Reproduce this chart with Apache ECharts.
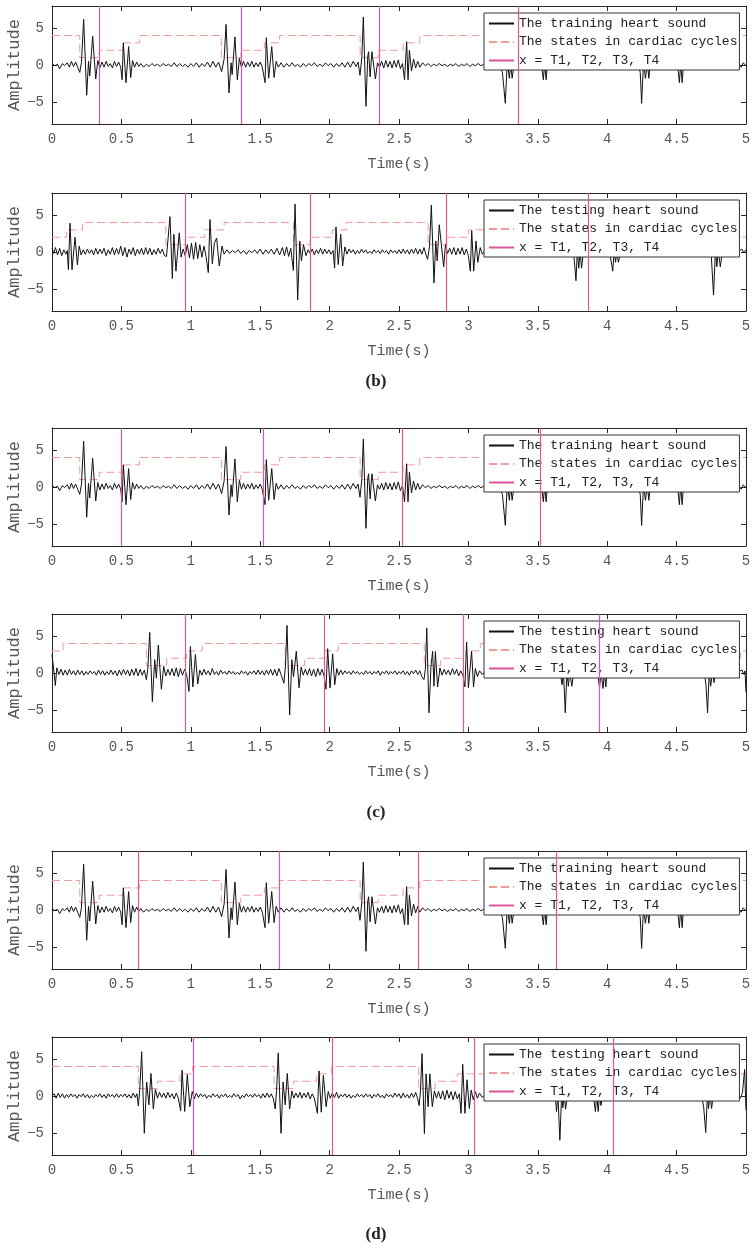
<!DOCTYPE html>
<html>
<head>
<meta charset="utf-8">
<script src="https://cdn.jsdelivr.net/npm/echarts@6/dist/echarts.min.js"></script>
</head>
<body style="margin:0;background:#fff">
<div id="main" style="width:752px;height:1244px;"></div>
<script>
// training heart sound (same recording in the three upper panels) [t, amplitude]
var trainSound = [
  [0,0.2],[0.02,-0.1],[0.04,0.1],[0.055,-0.5],[0.075,0.2],[0.09,-0.1],[0.11,0.3],[0.125,-0.3],[0.14,0.5],[0.155,-0.2],[0.17,0.4],[0.185,-0.3],
  [0.2,-1.0],[0.212,0.3],[0.228,6.2],[0.25,-4.1],[0.263,0.5],[0.272,-1.5],[0.293,3.9],[0.315,-1.9],[0.33,0.6],[0.345,-0.4],
  [0.36,0.4],[0.375,-0.3],[0.39,0.5],[0.405,-0.2],[0.42,0.2],[0.435,-0.4],[0.45,0.5],[0.465,-0.2],[0.48,0.4],[0.495,-0.3],
  [0.505,-2.0],[0.514,3.0],[0.533,-2.4],[0.552,2.5],[0.567,-1.7],[0.58,0.6],[0.595,-0.3],
  [0.61,0.4],[0.625,-0.2],[0.64,0.2],[0.66,-0.3],[0.68,0.1],[0.70,-0.2],[0.72,0.2],[0.74,-0.1],[0.76,0.1],[0.78,-0.2],[0.80,0.2],[0.82,-0.1],[0.84,0.1],[0.86,-0.2],[0.88,0.3],[0.90,-0.2],[0.92,0.2],[0.94,-0.2],[0.96,0.1],[0.98,-0.3],[1.0,0.2],[1.02,-0.2],[1.04,0.3],[1.06,-0.3],[1.08,0.2],[1.10,-0.2],[1.12,0.4],[1.14,-0.3],[1.16,0.5],[1.18,-0.3],[1.20,0.4],
  [1.222,-0.9],[1.24,0.8],[1.254,5.5],[1.275,-3.8],[1.29,0.3],[1.298,-1.3],[1.318,3.8],[1.335,-2.0],[1.35,0.9],[1.365,-0.3],
  [1.38,0.5],[1.395,-0.3],[1.41,0.4],[1.425,-0.2],[1.44,0.5],[1.455,-0.3],[1.47,0.3],[1.485,-0.2],[1.50,0.4],[1.515,-0.3],
  [1.535,-2.4],[1.544,3.7],[1.561,-1.8],[1.583,2.5],[1.60,-1.7],[1.615,0.5],[1.63,-0.3],
  [1.65,0.3],[1.67,-0.3],[1.69,0.2],[1.71,-0.2],[1.73,0.3],[1.75,-0.2],[1.77,0.1],[1.79,-0.3],[1.81,0.2],[1.83,-0.2],[1.85,0.2],[1.87,-0.1],[1.89,0.3],[1.91,-0.2],[1.93,0.1],[1.95,-0.2],[1.97,0.3],[1.99,-0.1],[2.01,0.2],[2.03,-0.3],[2.05,0.2],[2.07,-0.2],[2.09,0.3],[2.11,-0.3],[2.13,0.4],[2.15,-0.3],[2.17,0.5],[2.19,-0.2],[2.205,0.4],
  [2.219,-1.4],[2.232,1.0],[2.243,6.5],[2.262,-5.6],[2.275,1.2],[2.281,1.8],[2.292,-1.6],[2.305,1.8],[2.33,-1.9],[2.345,0.3],
  [2.36,-0.3],[2.375,0.5],[2.39,-0.4],[2.405,0.6],[2.42,-0.3],[2.435,0.5],[2.45,-0.4],[2.465,0.6],[2.48,-0.3],[2.495,0.7],[2.51,-0.5],
  [2.525,0.2],[2.54,-2.0],[2.555,3.15],[2.565,-2.0],[2.575,2.0],[2.59,-0.8],[2.605,0.8],[2.62,-0.4],[2.635,0.5],[2.65,-0.3],
  [2.67,0.3],[2.69,-0.1],[2.71,0.2],[2.73,-0.2],[2.75,0.1],[2.77,-0.1],[2.79,0.2],[2.81,-0.1],[2.83,0.1],[2.85,-0.2],[2.87,0.1],[2.89,-0.1],[2.91,0.2],[2.93,-0.2],[2.95,0.1],[2.97,-0.1],[2.99,0.2],[3.01,-0.2],[3.03,0.1],[3.05,-0.1],[3.07,0.2],[3.09,-0.1],[3.11,0.1],[3.13,-0.2],
  [3.22,0.2],[3.245,-1.0],[3.266,-5.2],[3.28,0.5],[3.295,-1.8],[3.305,0.2],[3.315,-1.8],[3.33,0.2],[3.45,0.1],[3.53,-0.5],[3.54,-2.0],[3.55,0.3],[3.56,-2.0],[3.57,0.2],[3.65,0.1],
  [4.22,0.2],[4.238,-1.0],[4.248,-5.2],[4.262,0.5],[4.275,-1.8],[4.29,0.2],[4.3,-1.8],[4.31,0.2],[4.45,0.1],[4.51,-0.5],[4.52,-2.4],[4.53,0.3],[4.54,-2.4],[4.55,0.2],[4.7,0.1],[4.9,-0.1],
  [4.95,0.2],[4.965,-0.3],[4.98,0.3],[5.0,-0.1]
];

// testing heart sound, panel (b)
var testSoundB = [
  [0,0.5],[0.012,-0.2],[0.025,0.6],[0.04,-0.4],[0.055,0.5],[0.07,-0.5],[0.085,0.3],[0.1,-0.3],[0.11,0.2],
  [0.118,-2.4],[0.13,3.9],[0.144,-2.4],[0.166,2.0],[0.183,-1.75],[0.196,0.8],[0.21,-0.4],
  [0.225,0.3],[0.24,-0.3],[0.255,0.4],[0.27,-0.2],[0.285,0.3],[0.30,-0.4],[0.315,0.5],[0.33,-0.3],[0.345,0.4],[0.36,-0.2],[0.375,0.5],[0.39,-0.5],[0.405,0.3],[0.42,-0.3],[0.435,0.6],[0.45,-0.4],[0.465,0.5],[0.48,-0.3],[0.495,0.8],[0.51,-0.5],[0.525,0.6],[0.54,-0.7],[0.555,0.4],[0.57,-0.3],[0.585,0.6],[0.60,-0.5],[0.615,0.4],[0.63,-0.3],[0.645,0.5],[0.66,-0.4],[0.675,0.6],[0.69,-0.3],[0.705,0.5],[0.72,-0.4],[0.735,0.3],[0.75,-0.3],[0.765,0.5],[0.78,-0.2],[0.795,0.4],[0.81,-0.5],
  [0.825,-0.6],[0.85,4.8],[0.867,-3.6],[0.878,2.4],[0.893,-2.6],[0.917,2.6],[0.93,-0.7],[0.945,0.4],[0.96,-0.5],
  [0.975,1.0],[0.99,-0.8],[1.005,1.2],[1.02,-1.0],[1.035,1.3],[1.05,-0.9],[1.065,1.0],[1.08,-0.7],[1.095,0.8],[1.11,-0.6],
  [1.126,-2.8],[1.138,4.4],[1.155,-1.6],[1.17,1.2],[1.186,1.9],[1.205,-1.9],[1.225,0.8],[1.24,-0.3],
  [1.26,0.3],[1.28,-0.2],[1.30,0.2],[1.32,-0.1],[1.34,0.3],[1.36,-0.2],[1.38,0.2],[1.40,-0.3],[1.42,0.2],[1.44,-0.1],[1.46,0.3],[1.48,-0.2],[1.50,0.4],[1.52,-0.3],[1.54,0.3],[1.56,-0.2],[1.58,0.4],[1.60,-0.3],[1.62,0.5],[1.64,-0.4],[1.66,0.6],[1.675,-0.5],[1.69,0.7],[1.705,-0.6],[1.72,0.5],
  [1.739,-2.5],[1.751,6.5],[1.77,-6.5],[1.785,1.5],[1.797,-1.2],[1.812,1.0],[1.83,-0.5],[1.845,0.3],
  [1.86,-0.2],[1.875,0.4],[1.89,-0.4],[1.905,0.3],[1.92,-0.2],[1.935,0.5],[1.95,-0.3],[1.965,0.4],[1.98,-0.2],[1.995,0.3],[2.01,-0.3],[2.025,0.2],
  [2.036,-2.2],[2.046,3.4],[2.062,-1.7],[2.08,2.4],[2.094,-1.9],[2.11,0.7],[2.125,-0.3],
  [2.14,0.4],[2.155,-0.1],[2.17,0.3],[2.185,-0.3],[2.20,0.2],[2.215,-0.2],[2.23,0.4],[2.245,-0.1],[2.26,0.3],[2.275,-0.2],[2.29,0.1],[2.305,-0.2],[2.32,0.3],[2.335,-0.1],[2.35,0.2],[2.365,-0.2],[2.38,0.3],[2.395,-0.1],[2.41,0.2],[2.425,-0.3],[2.44,0.3],[2.455,-0.1],[2.47,0.2],[2.485,-0.2],[2.50,0.3],[2.515,-0.2],[2.53,0.4],[2.545,-0.2],[2.56,0.3],[2.575,-0.3],[2.59,0.4],[2.605,-0.2],[2.62,0.5],[2.635,-0.3],[2.65,0.4],[2.665,-0.3],[2.68,0.6],[2.695,-0.4],
  [2.706,-1.0],[2.72,0.8],[2.733,6.35],[2.752,-4.2],[2.765,1.5],[2.775,-1.2],[2.79,3.7],[2.822,-2.0],[2.835,1.0],[2.85,-0.2],
  [2.865,0.5],[2.88,-0.3],[2.895,0.6],[2.91,-0.4],[2.925,0.5],[2.94,-0.3],[2.955,0.6],[2.97,-0.4],[2.985,0.4],[3.0,-0.5],
  [3.014,-2.6],[3.024,2.9],[3.038,-2.6],[3.055,1.5],[3.068,-1.4],[3.085,0.6],[3.1,-0.3],[3.12,0.2],
  [3.2,0.1],[3.76,-0.5],[3.775,-3.9],[3.785,0.3],[3.795,-2.2],[3.805,0.2],[3.815,-2.2],[3.83,0.2],[4.02,-0.3],[4.04,-2.6],[4.05,0.2],[4.06,-1.4],[4.07,0.2],[4.08,-1.4],[4.1,0.2],
  [4.75,-0.5],[4.766,-5.85],[4.78,0.3],[4.79,-2.0],[4.80,0.2],[4.815,-2.0],[4.83,0.2],[4.93,0.1],
  [4.955,0.2],[4.97,0.4],[4.985,-0.1],[5.0,0.3]
];

// testing heart sound, panel (c)
var testSoundC = [
  [0,2.5],[0.012,0.5],[0.024,-1.7],[0.035,0.7],[0.05,-0.2],[0.065,0.5],[0.08,-0.3],[0.095,0.4],[0.11,-0.3],[0.125,0.5],[0.14,-0.2],[0.155,0.3],[0.17,-0.3],[0.185,0.4],[0.20,-0.2],[0.215,0.3],[0.23,-0.3],[0.245,0.2],[0.26,-0.2],[0.275,0.3],[0.29,-0.1],[0.305,0.2],[0.32,-0.3],[0.335,0.4],[0.35,-0.2],[0.365,0.3],[0.38,-0.3],[0.395,0.2],[0.41,-0.2],[0.425,0.4],[0.44,-0.2],[0.455,0.3],[0.47,-0.4],[0.485,0.4],[0.50,-0.3],[0.515,0.5],[0.53,-0.2],[0.545,0.4],[0.56,-0.4],[0.575,0.5],[0.59,-0.3],[0.605,0.6],[0.62,-0.4],[0.635,0.5],[0.65,-0.3],[0.665,0.4],
  [0.68,-0.9],[0.69,0.5],[0.704,5.5],[0.723,-3.9],[0.74,1.8],[0.752,-0.7],[0.766,3.8],[0.788,-2.2],[0.805,0.9],[0.82,-0.4],
  [0.835,0.5],[0.85,-0.3],[0.865,0.6],[0.88,-0.4],[0.895,0.7],[0.91,-0.5],[0.925,0.6],[0.94,-0.3],[0.955,0.5],[0.97,-0.2],
  [0.987,-2.5],[0.997,3.6],[1.015,-1.9],[1.033,2.5],[1.05,-1.5],[1.065,0.4],[1.08,-0.3],
  [1.095,0.5],[1.11,-0.2],[1.125,0.3],[1.14,-0.3],[1.155,0.6],[1.17,-0.2],[1.185,0.2],[1.20,-0.3],[1.215,0.4],[1.23,-0.1],[1.245,0.2],[1.26,-0.2],[1.275,0.3],[1.29,-0.1],[1.305,0.2],[1.32,-0.2],[1.335,0.1],[1.35,-0.2],[1.365,0.3],[1.38,-0.1],[1.395,0.2],[1.41,-0.3],[1.425,0.2],[1.44,-0.1],[1.455,0.3],[1.47,-0.2],[1.485,0.4],[1.50,-0.2],[1.515,0.3],[1.53,-0.3],[1.545,0.4],[1.56,-0.2],[1.575,0.5],[1.59,-0.3],[1.605,0.5],[1.62,-0.4],[1.635,0.6],[1.65,-0.2],
  [1.671,-1.4],[1.682,1.0],[1.693,6.45],[1.712,-5.7],[1.728,1.8],[1.74,-0.5],[1.76,2.95],[1.78,-2.0],[1.795,0.8],[1.81,-0.3],
  [1.825,0.5],[1.84,-0.3],[1.855,0.6],[1.87,-0.4],[1.885,0.5],[1.90,-0.5],[1.915,0.6],[1.93,-0.3],[1.945,0.5],[1.96,-0.4],
  [1.974,-2.2],[1.986,3.3],[2.003,-2.05],[2.022,2.6],[2.037,-1.6],[2.052,0.6],[2.065,-0.3],
  [2.08,0.4],[2.095,-0.2],[2.11,0.3],[2.125,-0.1],[2.14,0.2],[2.155,-0.2],[2.17,0.3],[2.185,-0.1],[2.20,0.2],[2.215,-0.2],[2.23,0.1],[2.245,-0.2],[2.26,0.3],[2.275,-0.1],[2.29,0.2],[2.305,-0.2],[2.32,0.2],[2.335,-0.1],[2.35,0.3],[2.365,-0.3],[2.38,0.2],[2.395,-0.1],[2.41,0.3],[2.425,-0.2],[2.44,0.2],[2.455,-0.1],[2.47,0.3],[2.485,-0.2],[2.50,0.2],[2.515,-0.1],[2.53,0.3],[2.545,-0.2],[2.56,0.2],[2.575,-0.3],[2.59,0.3],[2.605,-0.1],[2.62,0.4],[2.635,-0.2],[2.65,0.3],[2.665,-0.5],
  [2.68,-0.9],[2.69,0.5],[2.7,6.1],[2.716,-5.4],[2.73,0.8],[2.742,2.95],[2.752,-1.8],[2.762,2.9],[2.778,-1.9],[2.795,0.7],[2.81,-0.3],
  [2.825,0.5],[2.84,-0.2],[2.855,0.4],[2.87,-0.3],[2.885,0.6],[2.90,-0.2],[2.915,0.5],[2.93,-0.4],[2.945,0.3],[2.96,-0.3],
  [2.975,-1.9],[2.987,4.2],[3.0,-2.0],[3.023,2.95],[3.037,-1.9],[3.05,0.6],[3.065,-0.5],[3.08,0.3],[3.1,-0.2],[3.12,0.2],
  [3.2,0.1],[3.66,0.1],[3.675,-1.6],[3.685,0.2],[3.698,-5.4],[3.71,0.3],[3.72,-1.8],[3.73,0.2],[3.745,-1.8],[3.76,0.2],
  [3.93,0.1],[3.945,-2.0],[3.955,0.2],[3.97,-2.1],[3.98,0.2],[3.99,-1.9],[4.0,0.2],
  [4.7,0.1],[4.712,-1.7],[4.723,-5.4],[4.735,0.3],[4.745,-1.8],[4.76,0.2],[4.77,-1.3],[4.78,0.2],[4.93,0.1],
  [4.97,0.4],[4.985,-0.2],[4.993,0.3],[5.0,-2.6]
];

// testing heart sound, panel (d)
var testSoundD = [
  [0,0.0],[0.015,0.3],[0.03,-0.3],[0.045,0.4],[0.06,-0.2],[0.075,0.3],[0.09,-0.3],[0.105,0.2],[0.12,-0.2],[0.135,0.3],[0.15,-0.1],[0.165,0.2],[0.18,-0.3],[0.195,0.2],[0.21,-0.1],[0.225,0.3],[0.24,-0.2],[0.255,0.2],[0.27,-0.3],[0.285,0.1],[0.30,-0.2],[0.315,0.2],[0.33,-0.1],[0.345,0.3],[0.36,-0.2],[0.375,0.2],[0.39,-0.3],[0.405,0.3],[0.42,-0.1],[0.435,0.2],[0.45,-0.2],[0.465,0.3],[0.48,-0.2],[0.495,0.2],[0.51,-0.1],[0.525,0.3],[0.54,-0.2],[0.555,0.2],[0.57,-0.3],[0.585,0.4],[0.60,-0.2],[0.612,0.3],
  [0.622,-1.35],[0.632,0.8],[0.646,6.0],[0.665,-5.05],[0.682,1.9],[0.698,-1.2],[0.713,3.06],[0.73,-1.75],[0.745,0.9],[0.76,-0.3],
  [0.775,0.5],[0.79,-0.2],[0.805,0.4],[0.82,-0.3],[0.835,0.5],[0.85,-0.2],[0.865,0.3],[0.88,-0.4],[0.895,0.4],[0.91,-0.3],
  [0.927,-2.0],[0.937,3.5],[0.956,-2.1],[0.975,2.9],[0.993,-1.45],[1.01,0.6],[1.025,-0.4],
  [1.04,0.4],[1.055,-0.2],[1.07,0.3],[1.085,-0.1],[1.10,0.2],[1.115,-0.3],[1.13,0.1],[1.145,-0.2],[1.16,0.3],[1.175,-0.1],[1.19,0.2],[1.205,-0.3],[1.22,0.2],[1.235,-0.1],[1.25,0.3],[1.265,-0.2],[1.28,0.1],[1.295,-0.2],[1.31,0.3],[1.325,-0.1],[1.34,0.2],[1.355,-0.4],[1.37,0.1],[1.385,-0.2],[1.40,0.3],[1.415,-0.1],[1.43,0.2],[1.445,-0.2],[1.46,0.3],[1.475,-0.1],[1.49,0.2],[1.505,-0.3],[1.52,0.3],[1.535,-0.2],[1.55,0.4],[1.565,-0.2],[1.58,0.3],[1.595,-0.4],
  [1.608,-1.75],[1.618,0.8],[1.63,5.85],[1.65,-5.05],[1.665,1.9],[1.68,-1.2],[1.695,3.06],[1.712,-1.75],[1.728,0.7],[1.742,-0.3],
  [1.757,0.4],[1.772,-0.2],[1.787,0.5],[1.80,-0.3],[1.815,0.4],[1.83,-0.2],[1.845,0.5],[1.86,-0.4],[1.875,0.3],[1.89,-0.3],
  [1.912,-2.35],[1.924,3.4],[1.94,-2.2],[1.955,2.8],[1.975,-1.45],[1.99,0.6],[2.005,-0.3],
  [2.02,0.4],[2.035,-0.2],[2.05,0.5],[2.065,-0.3],[2.08,0.2],[2.095,-0.1],[2.11,0.3],[2.125,-0.2],[2.14,0.2],[2.155,-0.3],[2.17,0.1],[2.185,-0.2],[2.20,0.3],[2.215,-0.1],[2.23,0.2],[2.245,-0.2],[2.26,0.3],[2.275,-0.1],[2.29,0.2],[2.305,-0.3],[2.32,0.2],[2.335,-0.1],[2.35,0.3],[2.365,-0.2],[2.38,0.1],[2.395,-0.3],[2.41,0.3],[2.425,-0.1],[2.44,0.2],[2.455,-0.2],[2.47,0.4],[2.485,-0.1],[2.50,0.3],[2.515,-0.3],[2.53,0.4],[2.545,-0.2],[2.56,0.2],[2.575,-0.3],[2.59,0.4],[2.605,-0.2],[2.62,0.5],[2.635,-0.4],
  [2.645,-1.3],[2.655,0.8],[2.666,5.75],[2.683,-5.1],[2.695,3.0],[2.71,-1.45],[2.722,3.0],[2.74,-1.45],[2.755,0.7],[2.77,-0.3],
  [2.785,0.6],[2.80,-0.4],[2.815,0.7],[2.83,-0.5],[2.845,0.8],[2.86,-0.3],[2.875,0.6],[2.89,-0.5],[2.905,0.6],[2.92,-0.4],[2.935,0.3],
  [2.947,-2.35],[2.959,4.3],[2.975,-2.35],[2.99,2.2],[3.007,-1.7],[3.02,0.8],[3.035,-0.5],[3.05,0.6],[3.065,-0.3],[3.08,0.4],[3.1,-0.2],[3.12,0.2],
  [3.2,0.1],[3.625,0.1],[3.635,-2.1],[3.645,0.2],[3.659,-6.0],[3.672,0.3],[3.68,-1.6],[3.69,0.2],[3.7,-1.8],[3.715,0.2],
  [3.9,0.1],[3.915,-2.1],[3.925,0.2],[3.935,-2.1],[3.945,0.2],[3.955,-1.3],[3.97,0.2],
  [4.68,0.1],[4.695,-1.5],[4.71,-4.95],[4.722,0.3],[4.73,-1.7],[4.742,0.2],[4.752,-1.7],[4.765,0.2],[4.93,0.1],
  [4.96,-0.3],[4.975,0.5],[4.99,3.6],[5.0,-1.9]
];

// cardiac states (1..4), value holds until the next change
var trainStates = [[0,4],[0.2,1],[0.34,2],[0.51,3],[0.63,4],[1.22,1],[1.36,2],[1.53,3],[1.64,4],[2.22,1],[2.35,2],[2.53,3],[2.65,4],[3.23,1],[3.36,2],[3.54,3],[3.65,4],[4.23,1],[4.36,2],[4.53,3],[4.64,4],[5,4]];
var testStatesB = [[0,2],[0.105,3],[0.22,4],[0.82,1],[0.96,2],[1.1,3],[1.24,4],[1.74,1],[1.86,2],[2.02,3],[2.12,4],[2.71,1],[2.84,2],[3.0,3],[3.13,4],[3.74,1],[3.86,2],[4.02,3],[4.12,4],[4.72,1],[4.84,2],[5,2]];
var testStatesC = [[0,3],[0.08,4],[0.68,1],[0.826,2],[0.97,3],[1.083,4],[1.68,1],[1.82,2],[1.967,3],[2.063,4],[2.682,1],[2.8,2],[2.983,3],[3.086,4],[3.68,1],[3.8,2],[3.97,3],[4.07,4],[4.68,1],[4.8,2],[4.96,3],[5,3]];
var testStatesD = [[0,4],[0.622,1],[0.759,2],[0.922,3],[1.013,4],[1.6,1],[1.739,2],[1.907,3],[2.015,4],[2.642,1],[2.76,2],[2.922,3],[3.14,4],[3.64,1],[3.76,2],[3.92,3],[4.03,4],[4.64,1],[4.76,2],[4.92,3],[5,3]];

// x = T1, T2, T3, T4
var marksA  = [0.34, 1.36, 2.36, 3.36];
var marksB  = [0.96, 1.86, 2.84, 3.86];
var marksC1 = [0.50, 1.52, 2.52, 3.52];
var marksC2 = [0.96, 1.96, 2.96, 3.94];
var marksD1 = [0.62, 1.64, 2.64, 3.63];
var marksD2 = [1.02, 2.02, 3.045, 4.04];

var yTicks = [-5, 0, 5];
var subLabels = ['(b)', '(c)', '(d)'];

var trainName = 'The training heart sound';
var testName = 'The testing heart sound';
var statesName = 'The states in cardiac cycles';
var marksName = 'x = T1, T2, T3, T4';

var panels = [
    {top: 6,    sound: trainSound, name: trainName, states: trainStates, marks: marksA},
    {top: 193,  sound: testSoundB, name: testName,  states: testStatesB, marks: marksB},
    {top: 428,  sound: trainSound, name: trainName, states: trainStates, marks: marksC1},
    {top: 614,  sound: testSoundC, name: testName,  states: testStatesC, marks: marksC2},
    {top: 851,  sound: trainSound, name: trainName, states: trainStates, marks: marksD1},
    {top: 1037, sound: testSoundD, name: testName,  states: testStatesD, marks: marksD2}
];
var subTops = [368, 799, 1221];

var monoFont = 'Liberation Mono';
var axisColor = '#262626';
var labelColor = '#555';
var pink = '#e0559f';
var stateColor = '#f29a9a';

var myChart = echarts.init(document.getElementById('main'));

var grids = [], xAxes = [], yAxes = [], series = [], legends = [];
panels.forEach(function (p, i) {
    grids.push({left: 52, right: 6, top: p.top, height: 118, outerBoundsMode: 'none', containLabel: false});
    xAxes.push({
        type: 'value', gridIndex: i, min: 0, max: 5, interval: 0.5, position: 'bottom',
        name: 'Time(s)', nameLocation: 'middle', nameGap: 33, nameMoveOverlap: false,
        nameTextStyle: {fontFamily: monoFont, fontSize: 15, color: labelColor},
        axisLine: {onZero: false, lineStyle: {color: axisColor}},
        axisTick: {inside: true, length: 5, lineStyle: {color: axisColor}},
        axisLabel: {margin: 8, fontFamily: monoFont, fontSize: 14, color: labelColor},
        splitLine: {show: false}
    });
    xAxes.push({
        type: 'value', gridIndex: i, min: 0, max: 5, interval: 0.5, position: 'top',
        axisLine: {onZero: false, lineStyle: {color: axisColor}},
        axisTick: {inside: true, length: 5, lineStyle: {color: axisColor}},
        axisLabel: {show: false}, splitLine: {show: false}
    });
    yAxes.push({
        type: 'value', gridIndex: i, min: -8, max: 8, position: 'left',
        name: 'Amplitude', nameLocation: 'middle', nameGap: 29, nameMoveOverlap: false,
        nameTextStyle: {fontFamily: monoFont, fontSize: 17, color: labelColor},
        axisLine: {show: true, onZero: false, lineStyle: {color: axisColor}},
        axisTick: {show: true, inside: true, length: 5, customValues: yTicks, lineStyle: {color: axisColor}},
        axisLabel: {margin: 8, fontFamily: monoFont, fontSize: 14, color: labelColor, customValues: yTicks,
            formatter: function (v) { return String(v).replace('-', '\u2212'); }},
        splitLine: {show: false}
    });
    yAxes.push({
        type: 'value', gridIndex: i, min: -8, max: 8, position: 'right',
        axisLine: {show: true, onZero: false, lineStyle: {color: axisColor}},
        axisTick: {show: true, inside: true, length: 5, customValues: yTicks, lineStyle: {color: axisColor}},
        axisLabel: {show: false}, splitLine: {show: false}
    });
    series.push({
        type: 'line', name: p.name, xAxisIndex: 2 * i, yAxisIndex: 2 * i,
        data: p.sound, symbol: 'none', color: '#111',
        lineStyle: {color: '#111', width: 1}, z: 3
    });
    series.push({
        type: 'line', name: statesName, xAxisIndex: 2 * i, yAxisIndex: 2 * i,
        data: p.states, step: 'end', symbol: 'none', color: stateColor,
        lineStyle: {color: stateColor, width: 1, type: [8, 4]}, z: 2
    });
    series.push({
        type: 'line', name: marksName, xAxisIndex: 2 * i, yAxisIndex: 2 * i,
        data: [], symbol: 'none', color: pink,
        lineStyle: {color: pink, width: 1.2},
        markLine: {
            silent: true, symbol: ['none', 'none'], label: {show: false},
            lineStyle: {color: pink, width: 1.2, type: 'solid'},
            data: p.marks.map(function (t) { return {xAxis: t}; })
        }, z: 4
    });
    legends.push({
        orient: 'vertical', left: 484, top: p.top + 7,
        padding: [4, 2, 3, 4], itemGap: 5.5, itemWidth: 25, itemHeight: 14,
        backgroundColor: '#fff', borderColor: '#333', borderWidth: 1, selectedMode: false,
        itemStyle: {opacity: 0},
        textStyle: {fontFamily: monoFont, fontSize: 13, color: '#222'},
        data: [p.name, statesName, marksName]
    });
});

var titles = subLabels.map(function (s, k) {
    return {text: s, left: 'center', top: subTops[k],
        textStyle: {fontFamily: 'Liberation Serif', fontWeight: 'bold', fontSize: 17, color: '#222'}};
});

myChart.setOption({
    animation: false,
    title: titles,
    grid: grids,
    xAxis: xAxes,
    yAxis: yAxes,
    legend: legends,
    series: series
});
</script>
</body>
</html>
